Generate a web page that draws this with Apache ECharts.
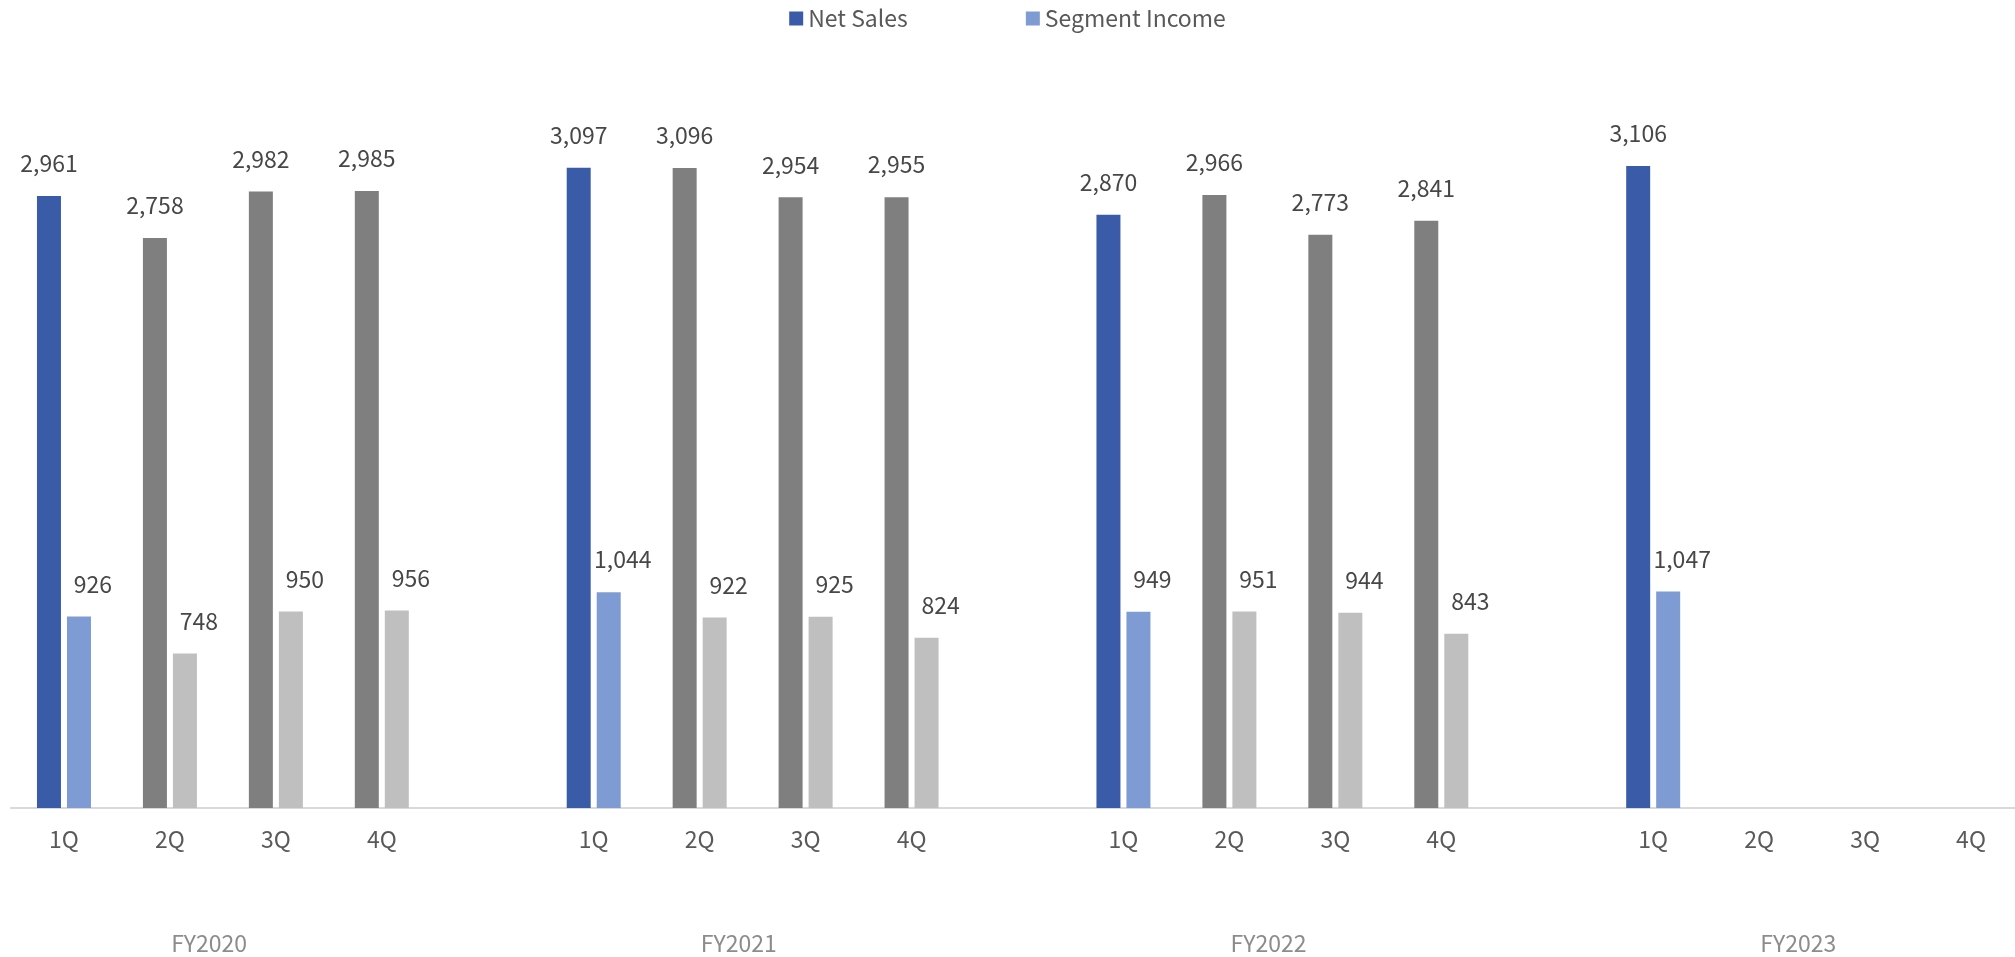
<!DOCTYPE html>
<html>
<head>
<meta charset="utf-8">
<title>Net Sales and Segment Income by Quarter</title>
<script src="https://cdn.jsdelivr.net/npm/echarts@6/dist/echarts.min.js"></script>
<style>
  html, body { margin: 0; padding: 0; background: #ffffff; }
  #chart { width: 2015px; height: 957px; }
</style>
</head>
<body>
<div id="chart"></div>
<script>
// Quarterly figures per fiscal year
const quarters = ['1Q', '2Q', '3Q', '4Q'];
const fiscalYears = ['FY2020', 'FY2021', 'FY2022', 'FY2023'];
const netSales = [
  [2961, 2758, 2982, 2985],
  [3097, 3096, 2954, 2955],
  [2870, 2966, 2773, 2841],
  [3106]
];
const segmentIncome = [
  [926, 748, 950, 956],
  [1044, 922, 925, 824],
  [949, 951, 944, 843],
  [1047]
];

const FONT = '"Noto Sans CJK JP", "Noto Sans", sans-serif';
const BLUE = '#3A5CA8';
const LIGHT_BLUE = '#7F9BD3';
const GRAY = '#7F7F7F';
const LIGHT_GRAY = '#BFBFBF';

// Flatten years into one category axis, with an empty spacer slot between years
const categories = [];
const quarterIndex = [];
const salesData = [];
const incomeData = [];
fiscalYears.forEach((fy, y) => {
  quarters.forEach((q, i) => {
    categories.push(q);
    quarterIndex.push(i);
    salesData.push(netSales[y][i] !== undefined ? netSales[y][i] : null);
    incomeData.push(segmentIncome[y][i] !== undefined ? segmentIncome[y][i] : null);
  });
  if (y < fiscalYears.length - 1) {
    categories.push('');
    quarterIndex.push(-1);
    salesData.push(null);
    incomeData.push(null);
  }
});

// Position of each fiscal-year caption below its four quarters
const slotsPerYear = quarters.length + 1;
const yearLabelPos = fiscalYears.map((_, y) => y * slotsPerYear + 1.37);

const fmt = v => (v == null ? '' : Number(v).toLocaleString('en-US'));

const chart = echarts.init(document.getElementById('chart'), null, { renderer: 'canvas' });

const baseLabel = {
  show: true,
  position: 'top',
  distance: 21,
  fontFamily: FONT,
  fontSize: 23,
  color: '#474747',
  formatter: p => fmt(p.value)
};

chart.setOption({
  animation: false,
  color: [BLUE, LIGHT_BLUE],
  textStyle: { fontFamily: FONT },
  legend: {
    top: 2,
    left: 'center',
    itemWidth: 14,
    itemHeight: 14,
    itemGap: 118,
    icon: 'rect',
    textStyle: { fontFamily: FONT, fontSize: 23, color: '#595959' },
    data: ['Net Sales', 'Segment Income']
  },
  grid: {
    left: 11,
    top: 84.5,
    width: 2013,
    bottom: 149,
    containLabel: false,
    outerBoundsMode: 'none'
  },
  xAxis: [
    {
      type: 'category',
      data: categories,
      axisLine: { lineStyle: { color: '#D9D9D9', width: 2 } },
      axisTick: { show: false },
      axisLabel: {
        interval: 0,
        margin: 20,
        fontFamily: FONT,
        fontSize: 23,
        color: '#595959'
      }
    },
    {
      type: 'value',
      min: -0.5,
      max: categories.length - 0.5,
      position: 'bottom',
      axisLine: { show: false },
      axisTick: { show: false },
      splitLine: { show: false },
      axisLabel: {
        customValues: yearLabelPos,
        margin: 124,
        fontFamily: FONT,
        fontSize: 23,
        color: '#8C8C8C',
        formatter: v => {
          const idx = yearLabelPos.findIndex(p => Math.abs(p - v) < 1e-6);
          return idx >= 0 ? fiscalYears[idx] : '';
        }
      }
    }
  ],
  yAxis: {
    type: 'value',
    min: 0,
    max: 3500,
    show: false,
    splitLine: { show: false }
  },
  series: [
    {
      name: 'Net Sales',
      type: 'bar',
      xAxisIndex: 0,
      barWidth: 24,
      barGap: '25%',
      data: salesData,
      itemStyle: {
        color: p => (quarterIndex[p.dataIndex] === 0 ? BLUE : GRAY)
      },
      label: baseLabel
    },
    {
      name: 'Segment Income',
      type: 'bar',
      xAxisIndex: 0,
      barWidth: 24,
      barGap: '25%',
      data: incomeData,
      itemStyle: {
        color: p => (quarterIndex[p.dataIndex] === 0 ? LIGHT_BLUE : LIGHT_GRAY)
      },
      label: Object.assign({}, baseLabel, { offset: [14, 0] })
    }
  ]
});
</script>
</body>
</html>
